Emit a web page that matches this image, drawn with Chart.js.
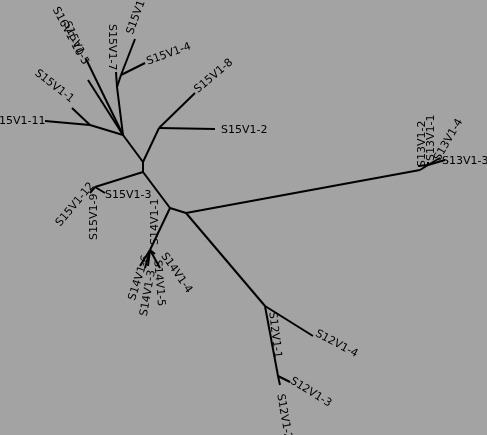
<!DOCTYPE html>
<html><head>
<script src="https://cdn.jsdelivr.net/npm/chart.js@4.4.0/dist/chart.umd.min.js"></script>
<style>
html,body{margin:0;padding:0;background:#a3a3a3;}
#wrap{width:487px;height:435px;}
</style>
</head><body>
<div id="wrap"><canvas id="tree"></canvas></div>
<script>
// node positions of the unrooted tree (x, y in picture units)
const nodeX = [143,143,170,186,265,278,420,428,150,159,123,90,117,121,
               195,215,45,72,86,88,116,135,145,95,90,105,155,148,145,140,160,
               313,280,290,418,428,445,440];
const nodeY = [162,172,208,213,306,376,170,165,250,128,135,125,87,75,
               93,129,121,108,59,80,72,39,63,187,193,193,254,266,268,266,268,
               336,385,382,166,162,160,158];
// edges as pairs of node indices
const edgeFrom = [0,1,2,3,3,4,4,5,5,2,8,8,8,8,8,0,9,9,0,10,11,11,10,10,10,12,12,13,13,1,23,23,6,7,7,7,7];
const edgeTo   = [1,2,3,6,4,31,5,32,33,8,26,27,28,29,30,9,14,15,10,11,16,17,12,18,19,20,13,21,22,23,24,25,7,34,35,36,37];
// leaf labels: text, start point, rotation in degrees
const labelText = ['S15V1-11','S15V1-1','S16V1-10','S15V1-5','S15V1-7','S15V1-','S15V1-4','S15V1-8','S15V1-2',
  'S15V1-12','S15V1-9','S15V1-3','S14V1-1','S14V1-4','S14V1-6','S14V1-3','S14V1-5',
  'S13V1-2','S13V1-1','S13V1-4','S13V1-3','S12V1-4','S12V1-1','S12V1-3','S12V1-2'];
const labelX = [-8,36,55,66,112,130,147,196,221, 58,94,105,155,163,132,144,157, 422,431,437,442, 316,272,291,280];
const labelY = [121,72,8,22,24,34,62,91,130, 225,240,195,245,254,300,316,260, 167,161,160,161, 333,312,380,394];
const labelAngle = [0,38,62,65,90,-70,-20,-40,0, -50,-90,0,-90,55,-72,-80,85, -90,-90,-60,0, 28,83,32,80];

const datasets = edgeFrom.map((f, i) => ({
  data: [{x: nodeX[f], y: nodeY[f]}, {x: nodeX[edgeTo[i]], y: nodeY[edgeTo[i]]}],
  showLine: true, borderColor: '#000', borderWidth: 2, pointRadius: 0
}));

const labelPlugin = {
  id: 'leafLabels',
  afterDatasetsDraw(chart) {
    const ctx = chart.ctx, xs = chart.scales.x, ys = chart.scales.y;
    ctx.save();
    ctx.fillStyle = '#000';
    ctx.font = '11px "DejaVu Sans"';
    ctx.textBaseline = 'middle';
    labelText.forEach((t, i) => {
      ctx.save();
      ctx.translate(xs.getPixelForValue(labelX[i]), ys.getPixelForValue(labelY[i]));
      ctx.rotate(labelAngle[i] * Math.PI / 180);
      ctx.fillText(t, 0, 0);
      ctx.restore();
    });
    ctx.restore();
  }
};

new Chart(document.getElementById('tree'), {
  type: 'scatter',
  data: { datasets },
  options: {
    responsive: true, maintainAspectRatio: false, animation: false,
    layout: { padding: 0 },
    plugins: { legend: { display: false }, tooltip: { enabled: false } },
    scales: {
      x: { type: 'linear', min: 0, max: 487, display: false },
      y: { type: 'linear', min: 0, max: 435, reverse: true, display: false }
    }
  },
  plugins: [labelPlugin]
});
</script>
</body></html>
